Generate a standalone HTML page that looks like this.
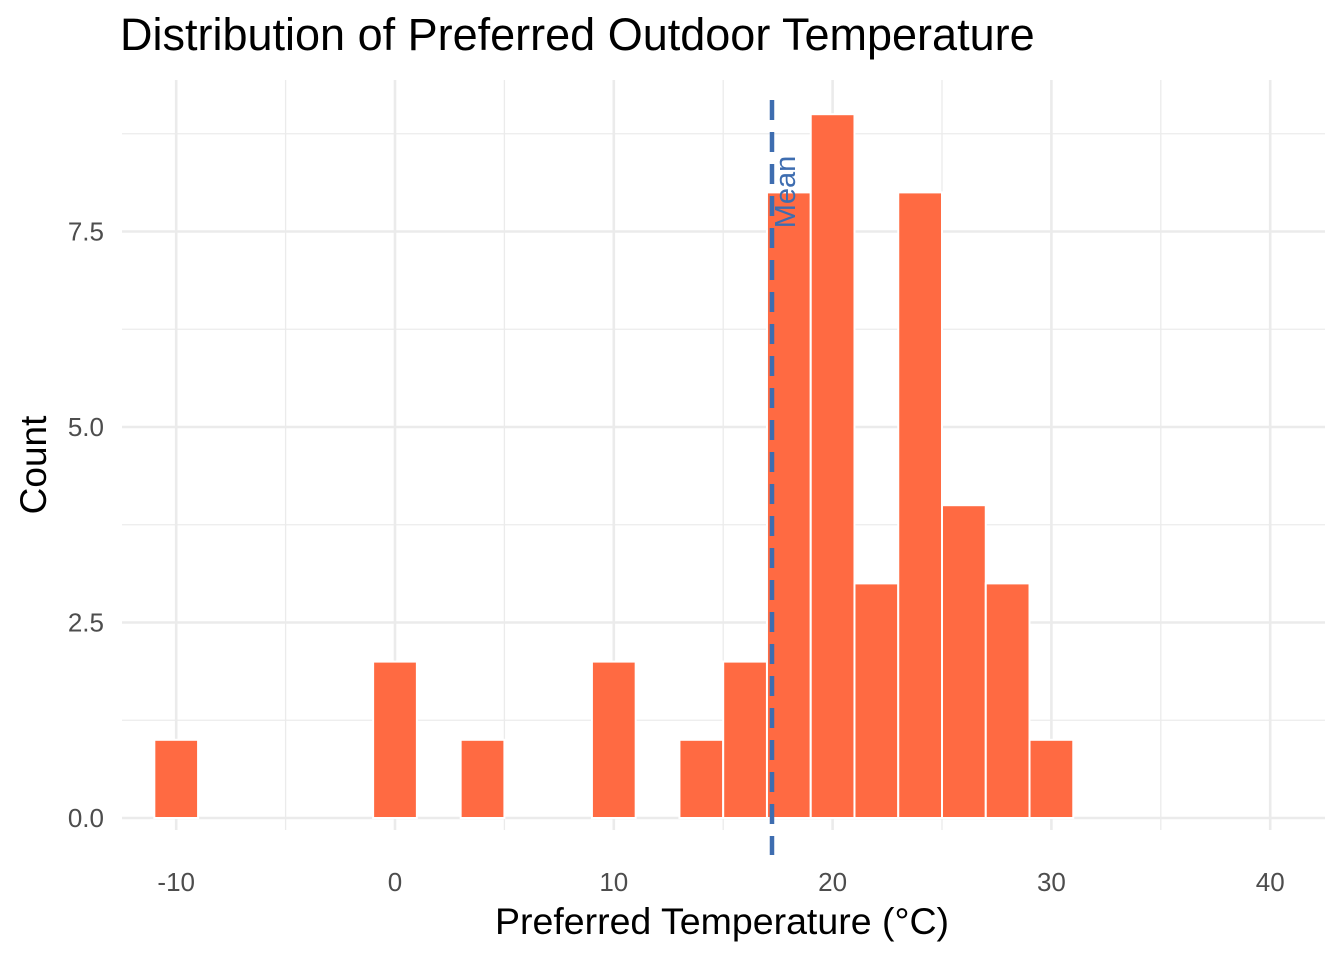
<!DOCTYPE html>
<html><head><meta charset="utf-8"><style>
body{margin:0;background:#fff;}
svg{display:block;font-family:"Liberation Sans",Arial,sans-serif;}
</style></head><body>
<svg id="chart" width="1344" height="960">
<text x="120" y="50" font-size="45" fill="#000">Distribution of Preferred Outdoor Temperature</text>
<g id="grid"></g><g id="bars"></g><g id="ticks"></g>
<text x="722" y="934" font-size="37.5" text-anchor="middle" fill="#000">Preferred Temperature (°C)</text>
<text transform="translate(46,465) rotate(-90)" font-size="37" text-anchor="middle" fill="#000">Count</text>
</svg>
<script>
const binCenters=[-10,0,4,10,14,16,18,20,22,24,26,28,30];
const counts=[1,2,1,2,1,2,8,9,3,8,4,3,1];
const binWidth=2;
const meanValue=17.23;
const xTicks=[-10,0,10,20,30,40];
const xMinor=[-5,5,15,25,35];
const yTicks=[0,2.5,5,7.5];
const yTickLabels=["0.0","2.5","5.0","7.5"];
const yMinor=[1.25,3.75,6.25,8.75];
const NS="http://www.w3.org/2000/svg";
const X=v=>395+v*21.88, Y=v=>818-v*78.2;
const L=122,R=1325,T=80,B=830;
function mk(tag,attrs,parent){const e=document.createElementNS(NS,tag);for(const k in attrs)e.setAttribute(k,attrs[k]);parent.appendChild(e);return e;}
const g=document.getElementById('grid'),b=document.getElementById('bars'),t=document.getElementById('ticks');
yMinor.forEach(v=>{const e=mk('line',{x1:L,x2:R,y1:Y(v),y2:Y(v),stroke:'#ebebeb','stroke-width':1.3},g);

});
xMinor.forEach(v=>{const e=mk('line',{x1:X(v),x2:X(v),y1:T,y2:B,stroke:'#ebebeb','stroke-width':1.3},g);

});
yTicks.forEach((v,i)=>{const e=mk('line',{x1:L,x2:R,y1:Y(v),y2:Y(v),stroke:'#ebebeb','stroke-width':2.6},g);


const tx=mk('text',{x:104,y:Y(v)+9,'font-size':26,'text-anchor':'end',fill:'#4d4d4d'},t);tx.textContent=yTickLabels[i];

});
xTicks.forEach(v=>{const e=mk('line',{x1:X(v),x2:X(v),y1:T,y2:B,stroke:'#ebebeb','stroke-width':2.6},g);


const tx=mk('text',{x:X(v),y:891,'font-size':26,'text-anchor':'middle',fill:'#4d4d4d'},t);tx.textContent=v;

});
binCenters.forEach((c,i)=>{const x0=X(c-binWidth/2),x1=X(c+binWidth/2);
const r=mk('rect',{x:x0,y:Y(counts[i]),width:x1-x0,height:Y(0)-Y(counts[i]),fill:'#FF6A42',stroke:'#fff','stroke-width':2},b);

});
const ml=mk('line',{x1:X(meanValue),x2:X(meanValue),y1:T+20,y2:B+25,stroke:'#3E6DB0','stroke-width':4.5,'stroke-dasharray':'20,12'},b);


const mt=mk('text',{transform:`translate(${X(meanValue)+23},192) rotate(-90)`,'font-size':29,'text-anchor':'middle',fill:'#3E6DB0'},b);mt.textContent='Mean';


</script>
</body></html>
